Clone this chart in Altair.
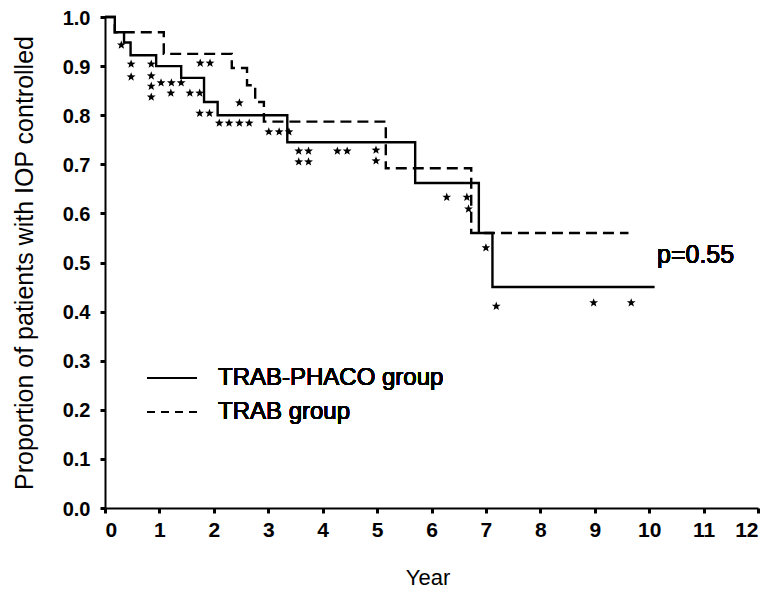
import altair as alt
import pandas as pd

# Kaplan-Meier step data
times_phaco = [0, 0.18, 0.35, 0.47, 0.94, 1.40, 1.82, 2.07, 3.35, 5.70, 6.87, 7.12, 10.10]
surv_phaco = [1.0, 0.969, 0.948, 0.922, 0.900, 0.876, 0.827, 0.800, 0.745, 0.662, 0.560, 0.450, 0.450]

times_trab = [0, 0.18, 1.08, 2.33, 2.61, 2.76, 2.92, 5.16, 6.73, 9.62]
surv_trab = [1.0, 0.969, 0.925, 0.896, 0.861, 0.827, 0.787, 0.692, 0.560, 0.560]

# censored observations (stars)
cens_x = [0.30, 0.48, 0.48, 0.85, 0.85, 0.85, 0.85, 1.03, 1.22, 1.40, 1.21,
          1.75, 1.93, 1.56, 1.74, 1.74, 1.92, 2.47, 2.10, 2.28, 2.47, 2.65,
          3.01, 3.20, 3.38, 3.56, 3.74, 3.56, 3.74, 4.27, 4.45, 4.98, 4.98,
          6.28, 6.65, 6.68, 7.00, 7.19, 8.98, 9.67]
cens_y = [0.943, 0.904, 0.878, 0.904, 0.880, 0.859, 0.837, 0.866, 0.866, 0.866, 0.845,
          0.906, 0.906, 0.845, 0.845, 0.804, 0.804, 0.825, 0.784, 0.784, 0.784, 0.784,
          0.766, 0.766, 0.766, 0.727, 0.727, 0.705, 0.705, 0.727, 0.727, 0.729, 0.707,
          0.633, 0.633, 0.609, 0.530, 0.411, 0.418, 0.418]

x_ticks = list(range(0, 13))
y_ticks = [round(i * 0.1, 1) for i in range(0, 11)]

groups = ["TRAB-PHACO group", "TRAB group"]
p_text = "p=0.55"

FONT = "Liberation Sans"
W, H = 653, 491

df_phaco = pd.DataFrame({"t": times_phaco, "s": surv_phaco})
df_trab = pd.DataFrame({"t": times_trab, "s": surv_trab})
df_cens = pd.DataFrame({"t": cens_x, "s": cens_y})

xscale = alt.Scale(domain=[0, 12], nice=False, zero=False)
yscale = alt.Scale(domain=[0, 1], nice=False)

xaxis = alt.Axis(values=x_ticks, format="d", title="Year", grid=False,
                 titleX=W / 2 - 4, titleY=69, titleBaseline="middle", titleFontSize=22,
                 labelFontSize=21)
yaxis = alt.Axis(values=y_ticks, format=".1f",
                 title="Proportion of patients with IOP controlled", grid=False,
                 titleX=-81, titleY=H / 2, titleBaseline="middle", titleAngle=-90,
                 titleFontSize=25, labelFontSize=20, labelOffset=1)

x_enc = alt.X("t:Q", scale=xscale, axis=xaxis)
y_enc = alt.Y("s:Q", scale=yscale, axis=yaxis)

line_phaco = alt.Chart(df_phaco).mark_line(
    interpolate="step-after", color="black", strokeWidth=2.4
).encode(x=x_enc, y=y_enc)

line_trab = alt.Chart(df_trab).mark_line(
    interpolate="step-after", color="black", strokeWidth=2.4, strokeDash=[11, 6]
).encode(x="t:Q", y="s:Q")

star_path = ("M0,-1L0.247,-0.34L0.951,-0.309L0.399,0.13L0.588,0.809L0,0.42"
             "L-0.588,0.809L-0.399,0.13L-0.951,-0.309L-0.247,-0.34Z")
stars = alt.Chart(df_cens).mark_point(
    shape=star_path, filled=True, color="black", size=85, opacity=1
).encode(x="t:Q", y="s:Q")

leg1 = alt.Chart(df_phaco).mark_rule(color="black", strokeWidth=2.2).encode(
    x=alt.value(42), x2=alt.value(92), y=alt.value(361))
leg2 = alt.Chart(df_phaco).mark_rule(color="black", strokeWidth=2.2, strokeDash=[8, 6]).encode(
    x=alt.value(42), x2=alt.value(92), y=alt.value(395))
txt1 = alt.Chart(df_phaco).mark_text(
    text=groups[0], align="left", baseline="middle", font=FONT, fontSize=24, color="black"
).encode(x=alt.value(113), y=alt.value(361))
txt2 = alt.Chart(df_phaco).mark_text(
    text=groups[1], align="left", baseline="middle", font=FONT, fontSize=24, color="black"
).encode(x=alt.value(113), y=alt.value(395))
ptxt = alt.Chart(df_phaco).mark_text(
    text=p_text, align="left", baseline="middle", font=FONT, fontSize=25, color="black"
).encode(x=alt.value(552), y=alt.value(238))

chart = alt.layer(line_trab, line_phaco, stars, leg1, leg2, txt1, txt2, ptxt).properties(
    width=W, height=H, autosize="none",
    padding={"left": 97, "top": 9, "right": 10, "bottom": 80},
    background="white",
).configure_view(stroke=None).configure_axis(
    domainColor="black", domainWidth=2, tickColor="black", tickWidth=3, tickSize=5,
    labelFont=FONT, labelFontWeight="bold", labelColor="black",
    titleFont=FONT, titleFontWeight="normal", titleColor="black",
    labelPadding=6,
).configure_axisY(labelPadding=10)

chart.save("out.html", embed_options={"renderer": "svg", "actions": False})
